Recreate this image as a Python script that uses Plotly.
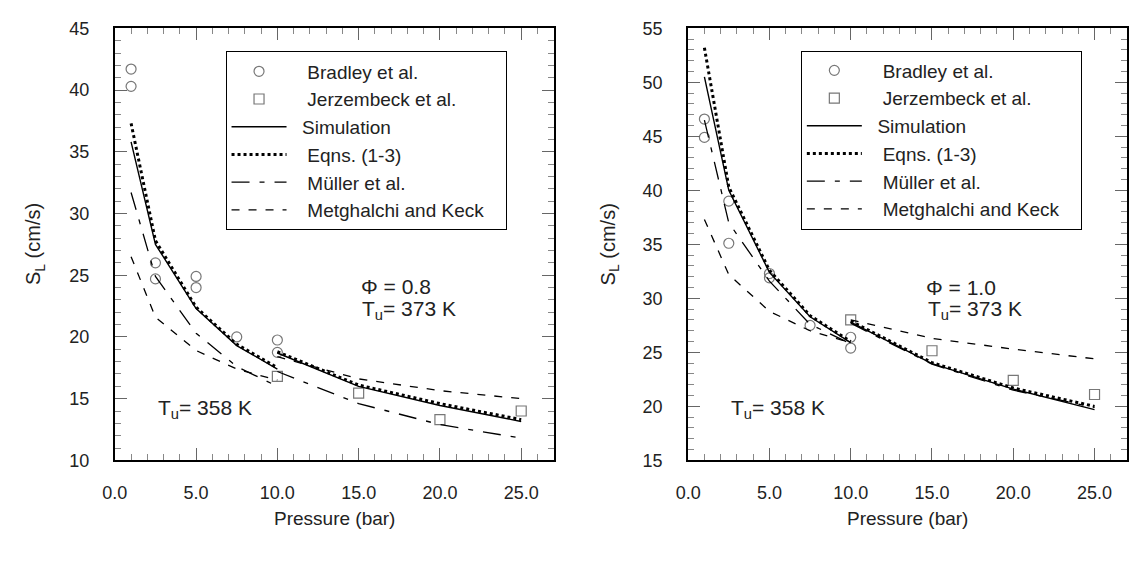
import plotly.graph_objects as go

W, H = 1131, 562

# ---------------- data: left panel (phi = 0.8) ----------------
p_brad_L = [1, 1, 2.5, 2.5, 5, 5, 7.5, 10, 10]
s_brad_L = [41.7, 40.3, 26.0, 24.7, 24.9, 24.0, 20.0, 19.75, 18.75]
p_jerz_L = [10, 15, 20, 25]
s_jerz_L = [16.8, 15.45, 13.3, 14.0]

p_curve = [1, 2.5, 5, 7.5, 10, None, 10, 15, 20, 25]
sim_L = [35.8, 27.5, 22.3, 19.3, 17.4, None, 18.7, 16.0, 14.45, 13.15]
eqn_L = [37.3, 27.8, 22.4, 19.4, 17.5, None, 18.8, 16.1, 14.6, 13.3]
mul_L = [31.7, 24.9, 20.3, 17.6, 16.0, None, 17.2, 14.6, 12.9, 11.8]
met_L = [26.5, 21.6, 18.9, 17.4, 16.5, None, 18.4, 16.6, 15.65, 15.0]

# ---------------- data: right panel (phi = 1.0) ----------------
p_brad_R = [1, 1, 2.5, 2.5, 5, 5, 7.5, 10, 10]
s_brad_R = [46.6, 44.9, 39.0, 35.1, 32.3, 31.9, 27.5, 26.4, 25.4]
p_jerz_R = [10, 15, 20, 25]
s_jerz_R = [28.0, 25.15, 22.4, 21.1]

sim_R = [50.5, 40.0, 32.4, 28.3, 25.9, None, 27.8, 23.95, 21.6, 19.7]
eqn_R = [53.2, 40.3, 32.6, 28.4, 26.0, None, 27.9, 24.05, 21.7, 20.0]
mul_R = [46.5, 37.0, 31.6, 27.6, 25.8, None, 27.7, 23.9, 21.5, 19.9]
met_R = [37.3, 32.2, 28.8, 27.0, 25.9, None, 28.0, 26.3, 25.3, 24.4]

x_ticks = [0, 5, 10, 15, 20, 25]
y_ticks_L = [10, 15, 20, 25, 30, 35, 40, 45]
y_ticks_R = [15, 20, 25, 30, 35, 40, 45, 50, 55]

NB = "\u00a0"
names = [NB * 3 + "Bradley et al.", NB * 3 + "Jerzembeck et al.", NB * 2 + "Simulation",
         NB * 3 + "Eqns. (1-3)", NB * 3 + "M\u00fcller et al.",
         NB * 3 + "Metghalchi and Keck" + NB * 3]

FONT = "Arial, Liberation Sans, sans-serif"


def px(x):
    return x / W


def py(y):
    return 1 - y / H


fig = go.Figure()


def add_panel(xa, ya, leg, pb, sb, pj, sj, sim, eqn, mul, met):
    fig.add_trace(go.Scatter(x=pb, y=sb, mode="markers", name=names[0],
                             marker=dict(symbol="circle-open", size=10, color="#777777",
                                         line=dict(width=1.2)),
                             xaxis=xa, yaxis=ya, legend=leg))
    fig.add_trace(go.Scatter(x=pj, y=sj, mode="markers", name=names[1],
                             marker=dict(symbol="square-open", size=10, color="#777777",
                                         line=dict(width=1.2)),
                             xaxis=xa, yaxis=ya, legend=leg))
    fig.add_trace(go.Scatter(x=p_curve, y=sim, mode="lines", name=names[2],
                             line=dict(color="black", width=1.4),
                             xaxis=xa, yaxis=ya, legend=leg))
    fig.add_trace(go.Scatter(x=p_curve, y=eqn, mode="lines", name=names[3],
                             line=dict(color="black", width=3, dash="3px,3px"),
                             xaxis=xa, yaxis=ya, legend=leg))
    fig.add_trace(go.Scatter(x=p_curve, y=mul, mode="lines", name=names[4],
                             line=dict(color="black", width=1.3, dash="18px,10px,5px,10px"),
                             xaxis=xa, yaxis=ya, legend=leg))
    fig.add_trace(go.Scatter(x=p_curve, y=met, mode="lines", name=names[5],
                             line=dict(color="black", width=1.3, dash="8px,9px"),
                             xaxis=xa, yaxis=ya, legend=leg))


add_panel("x", "y", "legend", p_brad_L, s_brad_L, p_jerz_L, s_jerz_L, sim_L, eqn_L, mul_L, met_L)
add_panel("x2", "y2", "legend2", p_brad_R, s_brad_R, p_jerz_R, s_jerz_R, sim_R, eqn_R, mul_R, met_R)

ydom = [py(467), py(19)]

common_x = dict(range=[0, 27], tickvals=x_ticks, ticktext=[f"{v:.1f}" for v in x_ticks],
                ticks="inside", ticklen=12, tickwidth=1, tickcolor="#666666",
                minor=dict(ticks="inside", dtick=1, ticklen=6, tickwidth=1, tickcolor="#888888"),
                showline=True, linecolor="black", linewidth=2, mirror="ticks",
                showgrid=False, zeroline=False, ticklabelstandoff=15,
                tickfont=dict(family=FONT, size=18, color="#222222"))
common_y = dict(ticks="inside", ticklen=12, tickwidth=1, tickcolor="#666666",
                minor=dict(ticks="inside", dtick=1, ticklen=6, tickwidth=1, tickcolor="#888888"),
                showline=True, linecolor="black", linewidth=2, mirror="ticks",
                showgrid=False, zeroline=False, ticklabelstandoff=20,
                tickfont=dict(family=FONT, size=18, color="#222222"))

legend_common = dict(bgcolor="white", bordercolor="black", borderwidth=1,
                     font=dict(family=FONT, size=19, color="#222222"),
                     itemwidth=55, xanchor="left", yanchor="top", tracegroupgap=0)

fig.update_layout(
    width=W, height=H, margin=dict(l=0, r=0, t=0, b=0),
    paper_bgcolor="white", plot_bgcolor="white",
    showlegend=True,
    xaxis=dict(domain=[px(103), px(547)], anchor="y", **common_x),
    yaxis=dict(domain=ydom, anchor="x", range=[10, 45], tickvals=y_ticks_L, **common_y),
    xaxis2=dict(domain=[px(683), px(1127)], anchor="y2", **common_x),
    yaxis2=dict(domain=ydom, anchor="x2", range=[15, 55], tickvals=y_ticks_R, **common_y),
    legend=dict(x=px(215), y=py(43), **legend_common),
    legend2=dict(x=px(797), y=py(42), **legend_common),
)

ann_font = dict(family=FONT, size=21, color="#222222")
title_font = dict(family=FONT, size=19, color="#222222")
annotations = [
    dict(text="\u03a6 = 0.8", x=px(350), y=py(287), xanchor="left", yanchor="middle", font=ann_font),
    dict(text="T<sub>u</sub>= 373 K", x=px(351), y=py(296), xanchor="left", yanchor="top", font=ann_font),
    dict(text="T<sub>u</sub>= 358 K", x=px(145), y=py(398), xanchor="left", yanchor="top", font=ann_font),
    dict(text="\u03a6 = 1.0", x=px(922), y=py(288), xanchor="left", yanchor="middle", font=ann_font),
    dict(text="T<sub>u</sub>= 373 K", x=px(924), y=py(296), xanchor="left", yanchor="top", font=ann_font),
    dict(text="T<sub>u</sub>= 358 K", x=px(724), y=py(398), xanchor="left", yanchor="top", font=ann_font),
    dict(text="Pressure (bar)", x=px(325), y=py(527), xanchor="center", yanchor="middle", font=title_font),
    dict(text="Pressure (bar)", x=px(905), y=py(527), xanchor="center", yanchor="middle", font=title_font),
    dict(text="S<sub>L</sub> (cm/s)", x=px(22), y=py(243), xanchor="center", yanchor="middle",
         textangle=-90, font=dict(family=FONT, size=20, color="#222222")),
    dict(text="S<sub>L</sub> (cm/s)", x=px(603), y=py(243), xanchor="center", yanchor="middle",
         textangle=-90, font=dict(family=FONT, size=20, color="#222222")),
]
for a in annotations:
    fig.add_annotation(xref="paper", yref="paper", showarrow=False, **a)

fig.write_html("out.html")
